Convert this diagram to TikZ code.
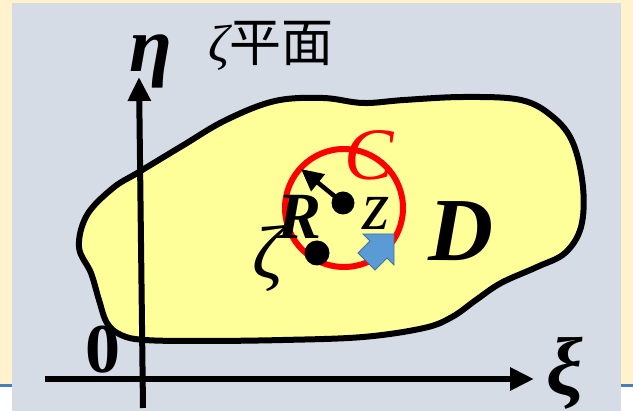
\documentclass[tikz,border=0pt]{standalone}
\usepackage{fontspec}
\setmainfont{Liberation Serif}
\newfontfamily\cjkfont{Noto Sans CJK SC}
\usepackage{tikz}
\usetikzlibrary{arrows.meta}
\usepackage{xcolor}
\definecolor{cream}{HTML}{FFF2CC}
\definecolor{panelgray}{HTML}{D6DCE5}
\definecolor{slideblue}{HTML}{4A7EBB}
\definecolor{regionyellow}{HTML}{FFFF99}
\definecolor{contourred}{HTML}{FF0000}
\definecolor{arrowblue}{HTML}{5B9BD5}
\definecolor{arrowedge}{HTML}{41719C}
\newcommand{\fsz}[1]{\fontsize{#1}{#1}\selectfont}

\begin{document}
\begin{tikzpicture}[x=1pt, y=-1pt, >={Triangle[length=24pt,width=22pt]},
  lbl/.style={inner sep=0pt, anchor=center}]
  \useasboundingbox (0,0) rectangle (633,411);
  % slide background and panel
  \fill[cream] (0,0) rectangle (633,385);
  \fill[slideblue] (0,384) rectangle (633,387);
  \fill[panelgray] (12,3) rectangle (621,411);
  % region D
  \draw[line width=6pt, fill=regionyellow] plot[smooth cycle, tension=0.6] coordinates {
    (79,247) (87,215) (113,188) (139,172) (182,146) (226,120) (275,101)
    (323,98) (363,103) (404,100) (464,97) (521,100) (553,117) (573,143)
    (583,187) (581,227) (565,253) (537,267) (501,283) (476,300) (452,317)
    (424,328) (363,337) (283,340) (202,341) (145,340) (121,335) (107,323)
    (99,300) (91,273)};
  % axes
  \coordinate (xi0) at (45,379);
  \coordinate (xi1) at (534,379);
  \coordinate (eta0) at (143,408);
  \coordinate (eta1) at (139,77);
  \draw[->, line width=6pt] (xi0) -- (xi1);
  \draw[->, line width=6pt] (eta0) -- (eta1);
  % contour C and points
  \coordinate (zc) at (344,208);
  \draw[contourred, line width=6pt] (zc) circle (59);
  \coordinate (zeta) at (317,253);
  \coordinate (z) at (343,203);
  \coordinate (rtip) at (301,169);
  \draw[-{Triangle[length=22pt,width=21pt]}, line width=4.5pt] (z) -- (rtip);
  \fill (z) circle (11.5);
  \fill (zeta) circle (12.5);
  % orientation arrow
  \draw[fill=arrowblue, draw=arrowedge, line width=0.8pt]
    (394,234) -- (394,265) -- (387,258) -- (375,270) -- (358,253)
    -- (370,241) -- (363,234) -- cycle;
  % labels
  \node[lbl, font={\fsz{78}\bfseries\itshape}] (etalbl) at (151,61) {η};
  \node[lbl, anchor=west, font={\fsz{52}}] (plane) at (208,46) {{\itshape ζ}\cjkfont 平面};
  \node[lbl, font={\fsz{82}\bfseries\itshape}] (xilbl) at (565,373) {ξ};
  \node[lbl, font={\fsz{70}\bfseries}] (origin) at (103,350) {0};
  \node[lbl, font={\fsz{90}\bfseries\itshape}] (dlbl) at (461,231) {D};
  \node[lbl, font={\fsz{66}\bfseries\itshape}] (rlbl) at (300,217) {R};
  \node[lbl, font={\fsz{70}\itshape}] (zlbl) at (376,213) {z};
  \node[lbl, font={\fsz{76}\itshape}] (zetalbl) at (268,258) {ζ};
  \node[lbl, text=contourred, font={\fsz{74}\itshape}] (clbl) at (369,155) {C};
\end{tikzpicture}
\end{document}
